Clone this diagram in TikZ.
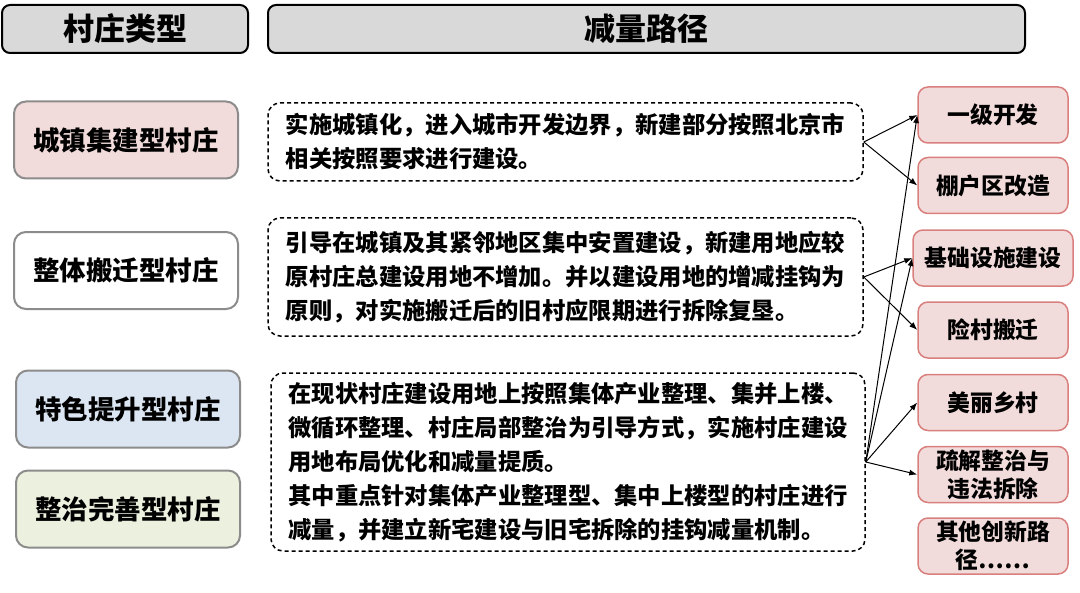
\documentclass[tikz,border=0pt]{standalone}
\usepackage{fontspec}
\newfontfamily\cjk{Noto Sans CJK SC}
\usetikzlibrary{arrows.meta}
\definecolor{headgray}{HTML}{D9D9D9}
\definecolor{kindgray}{HTML}{8C8C8C}
\definecolor{kindpink}{HTML}{F2DCDB}
\definecolor{kindblue}{HTML}{DCE6F2}
\definecolor{kindgreen}{HTML}{EBF1DE}
\definecolor{routered}{HTML}{D9807E}
\begin{document}
\begin{tikzpicture}[x=0.5pt,y=-0.5pt,
 head/.style={draw=black,line width=1pt,fill=headgray,rounded corners=4pt,minimum height=24pt,
  font=\cjk\bfseries\fontsize{15.5}{18}\selectfont},
 kind/.style={draw=kindgray,line width=1pt,rounded corners=6pt,minimum width=112pt,minimum height=38.5pt,
  font=\cjk\bfseries\fontsize{13.25}{16}\selectfont},
 waybox/.style={draw=black,line width=0.75pt,dash pattern=on 2pt off 1.5pt,rounded corners=6pt,align=left,
  inner sep=0pt,font=\cjk\bfseries\fontsize{11.65}{17}\selectfont},
 route/.style={draw=routered,line width=0.75pt,fill=kindpink,rounded corners=5pt,minimum width=75pt,
  minimum height=28pt,inner sep=1pt,align=center,font=\cjk\bfseries\fontsize{11.4}{14}\selectfont},
 link/.style={-{Latex[length=4pt,width=3pt]},line width=0.5pt}]
 \fill[white](0,0) rectangle (1080,593);
 % headers
 \node[head,minimum width=123pt] (typehead) at (125,29) {村庄类型};
 \node[head,minimum width=378.5pt] (pathhead) at (646.5,29) {减量路径};
 % village types
 \node[kind,fill=kindpink] (town) at (126,140) {城镇集建型村庄};
 \node[kind,fill=white] (move) at (126,270.5) {整体搬迁型村庄};
 \node[kind,fill=kindblue] (feature) at (128,409) {特色提升型村庄};
 \node[kind,fill=kindgreen] (repair) at (128,509) {整治完善型村庄};
 % reduction texts
 \node[waybox,minimum width=297.5pt,minimum height=39pt] (waya) at (565.5,142)
  {实施城镇化，进入城市开发边界，新建部分按照北京市\\相关按照要求进行建设。};
 \node[waybox,minimum width=297.5pt,minimum height=59pt] (wayb) at (565.5,277)
  {引导在城镇及其紧邻地区集中安置建设，新建用地应较\\原村庄总建设用地不增加。并以建设用地的增减挂钩为\\原则，对实施搬迁后的旧村应限期进行拆除复垦。};
 \node[waybox,minimum width=297pt,minimum height=89pt] (wayc) at (568,462)
  {在现状村庄建设用地上按照集体产业整理、集并上楼、\\微循环整理、村庄局部整治为引导方式，实施村庄建设\\用地布局优化和减量提质。\\其中重点针对集体产业整理型、集中上楼型的村庄进行\\减量，并建立新宅建设与旧宅拆除的挂钩减量机制。};
 % routes
 \node[route] (dev) at (993,115) {一级开发};
 \node[route] (shed) at (993,185.5) {棚户区改造};
 \node[route,minimum width=80pt] (infra) at (993,258) {基础设施建设};
 \node[route] (risk) at (993,330) {险村搬迁};
 \node[route] (pretty) at (993,402.5) {美丽乡村};
 \node[route] (clear) at (993,474.5) {疏解整治与\\违法拆除};
 \node[route] (other) at (993,546) {其他创新路\\径……};
 % links
 \draw[link] (waya.east) -- (dev.west);
 \draw[link] (waya.east) -- (shed.west);
 \draw[link] (wayb.east) -- (infra.west);
 \draw[link] (wayb.east) -- (risk.west);
 \draw[link] (wayc.east) -- (dev.west);
 \draw[link] (wayc.east) -- (infra.west);
 \draw[link] (wayc.east) -- (pretty.west);
 \draw[link] (wayc.east) -- (clear.west);
\end{tikzpicture}
\end{document}
